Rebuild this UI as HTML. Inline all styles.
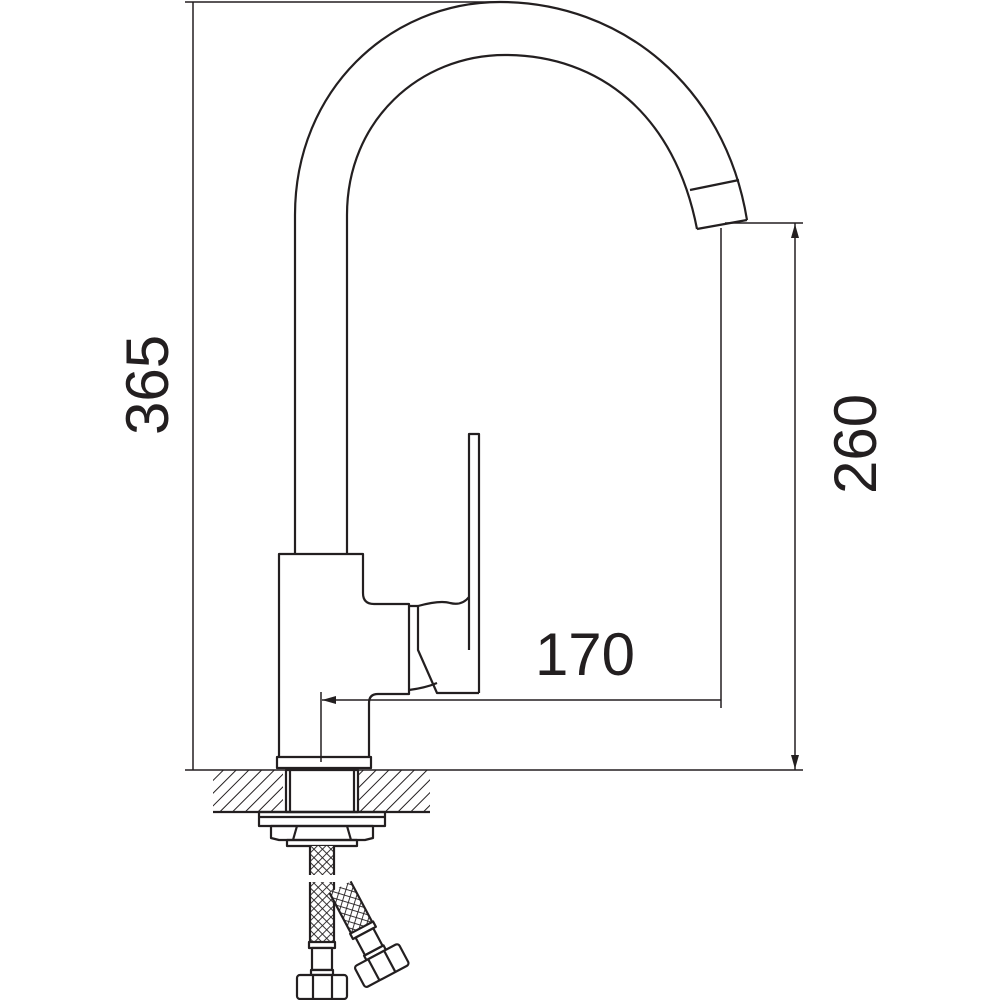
<!DOCTYPE html>
<html><head><meta charset="utf-8"><style>
html,body{margin:0;padding:0;background:#fff}
svg{display:block}
text{font-family:"Liberation Sans",sans-serif;fill:#231f20}
</style></head><body>
<svg width="1000" height="1000" viewBox="0 0 1000 1000" xmlns="http://www.w3.org/2000/svg">
<defs>
<pattern id="hatch" width="9" height="9" patternUnits="userSpaceOnUse" patternTransform="rotate(45)">
<line x1="0" y1="0" x2="0" y2="9" stroke="#231f20" stroke-width="2"/>
</pattern>
<pattern id="braid" width="6" height="6" patternUnits="userSpaceOnUse" patternTransform="rotate(45)">
<rect width="6" height="6" fill="#fff"/>
<line x1="0" y1="0" x2="0" y2="6" stroke="#231f20" stroke-width="1.8"/>
<line x1="0" y1="0" x2="6" y2="0" stroke="#231f20" stroke-width="1.8"/>
</pattern>
</defs>
<g fill="none" stroke="#231f20" stroke-width="2.2" stroke-linejoin="round">
<path d="M295,553 L295,215 C295,90 390,2 500,2 C620,2 725,85 747,220"/>
<path d="M347,553 L347,215 C347,120 420,55 505,55 C600,55 675,115 697,229"/>
<line x1="690" y1="190" x2="739" y2="180"/>
<line x1="697" y1="229" x2="747" y2="220"/>
<path d="M279,757 L279,554 L363,554 L363,593 Q363,604 374,604 L409,604 L409,694 L378,694 Q369,694 369,703 L369,757"/>
<rect x="277" y="757" width="94" height="11"/>
<path d="M409,606 L418,606 L418,650 L437,693 L479,693"/>
<path d="M418,606 Q440,600 450,603 Q462,606 469,597"/>
<path d="M469,650 L469,434 L479,434 L479,693"/>
<path d="M409,690 Q425,688 437,683"/>
<line x1="185" y1="2" x2="500" y2="2" stroke-width="1.5"/>
<line x1="193" y1="2" x2="193" y2="770" stroke-width="1.5"/>
<line x1="185" y1="770" x2="803" y2="770" stroke-width="1.5"/>
<line x1="725" y1="223" x2="803" y2="223" stroke-width="1.5"/>
<line x1="795" y1="223" x2="795" y2="770" stroke-width="1.5"/>
<line x1="721" y1="228" x2="721" y2="708" stroke-width="1.5"/>
<line x1="322" y1="700" x2="721" y2="700" stroke-width="1.5"/>
<line x1="321" y1="692" x2="321" y2="762" stroke-width="1.5"/>
<rect x="213" y="770" width="70" height="42" fill="url(#hatch)" stroke="none"/>
<rect x="358" y="770" width="72" height="42" fill="url(#hatch)" stroke="none"/>
<line x1="213" y1="812" x2="430" y2="812"/>
<rect x="286" y="770" width="72" height="42"/>
<line x1="290" y1="770" x2="290" y2="812"/>
<line x1="354" y1="770" x2="354" y2="812"/>
<rect x="259" y="812" width="126" height="14"/>
<line x1="259" y1="817" x2="385" y2="817"/>
<path d="M271,826 L373,826 L373,838 L365,840 L279,840 L271,838 Z"/>
<line x1="297" y1="826" x2="293" y2="840"/>
<line x1="347" y1="826" x2="351" y2="840"/>
<rect x="287" y="840" width="70" height="6"/>
<rect x="310" y="846" width="24" height="29" fill="url(#braid)" stroke="none"/>
<line x1="310" y1="846" x2="310" y2="875"/><line x1="334" y1="846" x2="334" y2="875"/>
<rect x="310" y="882" width="24" height="60" fill="url(#braid)" stroke="none"/>
<line x1="310" y1="882" x2="310" y2="942"/><line x1="334" y1="882" x2="334" y2="942"/>
<rect x="309" y="942" width="26" height="6" fill="#fff"/>
<rect x="312" y="948" width="20" height="22" fill="#fff"/>
<rect x="311" y="970" width="22" height="5" fill="#fff"/>
<rect x="297" y="975" width="50" height="24" rx="3" fill="#fff"/>
<line x1="313" y1="975" x2="313" y2="999"/><line x1="332" y1="975" x2="332" y2="999"/>
<g transform="translate(340,887) rotate(-28)">
<rect x="-12" y="0" width="24" height="46" fill="url(#braid)" stroke="none"/>
<line x1="-12" y1="0" x2="-12" y2="46"/><line x1="12" y1="0" x2="12" y2="46"/>
<rect x="-13" y="46" width="26" height="6" fill="#fff"/>
<rect x="-10" y="52" width="20" height="20" fill="#fff"/>
<rect x="-11" y="72" width="22" height="5" fill="#fff"/>
<rect x="-25" y="77" width="50" height="24" rx="3" fill="#fff"/>
<line x1="-9" y1="77" x2="-9" y2="101"/><line x1="9" y1="77" x2="9" y2="101"/>
</g>
</g>
<g fill="#231f20">
<polygon points="322,700 336,696 336,704"/>
<polygon points="795,224 791,238 799,238"/>
<polygon points="795,769 791,755 799,755"/>
</g>
<text x="0" y="0" font-size="60" text-anchor="middle" transform="translate(168,385) rotate(-90)">365</text>
<text x="0" y="0" font-size="60" text-anchor="middle" transform="translate(876,444) rotate(-90)">260</text>
<text x="585" y="675" font-size="60" text-anchor="middle">170</text>
</svg>
</body></html>
